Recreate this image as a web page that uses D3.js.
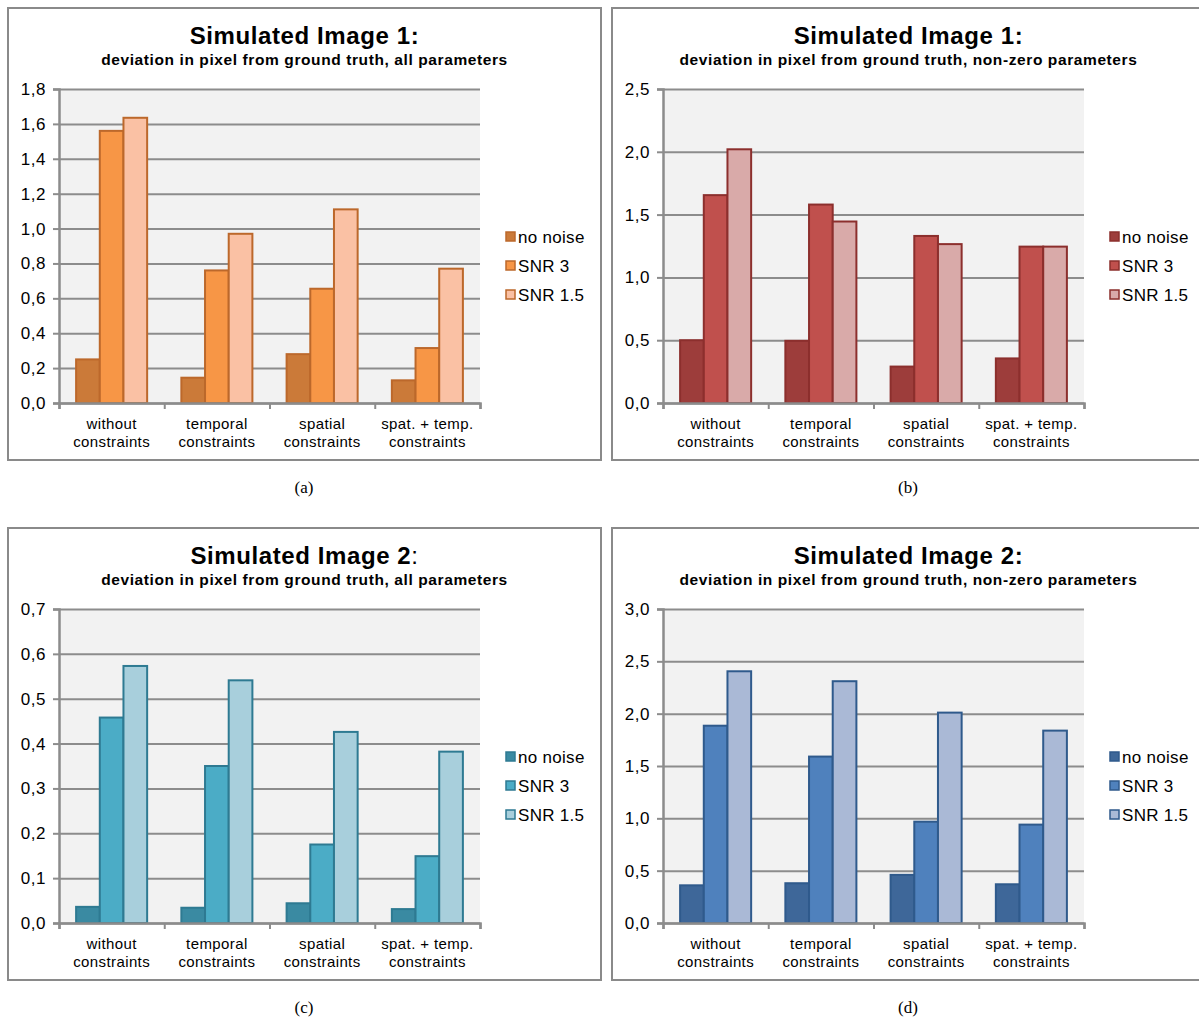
<!DOCTYPE html>
<html>
<head>
<meta charset="utf-8">
<script src="https://cdnjs.cloudflare.com/ajax/libs/d3/7.8.5/d3.min.js"></script>
<style>
  body { margin: 0; background: #fff; }
  svg { display: block; }
  text { font-family: "Liberation Sans", Arial, sans-serif; fill: #000; }
</style>
</head>
<body>
<script>
// data
var categories = [["without", "constraints"], ["temporal", "constraints"], ["spatial", "constraints"], ["spat. + temp.", "constraints"]];
var seriesNames = ["no noise", "SNR 3", "SNR 1.5"];

// (a) image 1, all parameters
var img1All = [
  [0.25, 0.145, 0.28, 0.13],
  [1.56, 0.76, 0.655, 0.315],
  [1.635, 0.97, 1.11, 0.77]
];
// (b) image 1, non-zero parameters
var img1NonZero = [
  [0.50, 0.495, 0.29, 0.355],
  [1.655, 1.58, 1.33, 1.245],
  [2.02, 1.445, 1.265, 1.245]
];
// (c) image 2, all parameters
var img2All = [
  [0.036, 0.034, 0.044, 0.031],
  [0.458, 0.350, 0.175, 0.149],
  [0.573, 0.541, 0.426, 0.382]
];
// (d) image 2, non-zero parameters
var img2NonZero = [
  [0.36, 0.38, 0.46, 0.37],
  [1.885, 1.59, 0.968, 0.94],
  [2.405, 2.31, 2.01, 1.838]
];

var yTicksA = [0, 0.2, 0.4, 0.6, 0.8, 1.0, 1.2, 1.4, 1.6, 1.8];
var yTicksB = [0, 0.5, 1.0, 1.5, 2.0, 2.5];
var yTicksC = [0, 0.1, 0.2, 0.3, 0.4, 0.5, 0.6, 0.7];
var yTicksD = [0, 0.5, 1.0, 1.5, 2.0, 2.5, 3.0];

var panels = [
  { x: 8, y: 8, title: "Simulated Image 1:", sub: "deviation in pixel from ground truth, all parameters",
    data: img1All, ticks: yTicksA, caption: "(a)",
    fills: ["#cb7a39", "#f79646", "#fac1a4"], stroke: "#bc682b" },
  { x: 612, y: 8, title: "Simulated Image 1:", sub: "deviation in pixel from ground truth, non-zero parameters",
    data: img1NonZero, ticks: yTicksB, caption: "(b)",
    fills: ["#9d3d3b", "#c0504d", "#d9aaa9"], stroke: "#8c2f2d" },
  { x: 8, y: 528, title: "Simulated Image 2", colon: true, sub: "deviation in pixel from ground truth, all parameters",
    data: img2All, ticks: yTicksC, caption: "(c)",
    fills: ["#3a8aa2", "#4bacc6", "#a8cfdc"], stroke: "#2e7a92" },
  { x: 612, y: 528, title: "Simulated Image 2:", sub: "deviation in pixel from ground truth, non-zero parameters",
    data: img2NonZero, ticks: yTicksD, caption: "(d)",
    fills: ["#3e6799", "#4f81bd", "#aab9d6"], stroke: "#2f5a8c" }
];

var W = 1199, H = 1017;
var pw = 593, ph = 452;
var m = { left: 51, top: 81, width: 421, height: 314 };

var svg = d3.select("body").append("svg")
  .attr("width", W)
  .attr("height", H);

var fmt = function(d) { return d3.format(".1f")(d).replace(".", ","); };

panels.forEach(function(p) {
  var g = svg.append("g").attr("transform", "translate(" + p.x + "," + p.y + ")");

  // frame
  g.append("rect")
    .attr("x", 0).attr("y", 0)
    .attr("width", pw).attr("height", ph)
    .attr("fill", "#fff")
    .attr("stroke", "#8a8a8a")
    .attr("stroke-width", 2);

  // titles
  var t = g.append("text")
    .attr("x", pw / 2).attr("y", 36)
    .attr("text-anchor", "middle")
    .style("font-size", "24px")
    .style("font-weight", "bold")
    .style("letter-spacing", "0.6px")
    .text(p.title);
  if (p.colon) t.append("tspan").style("font-weight", "normal").text(":");

  g.append("text")
    .attr("x", pw / 2).attr("y", 57)
    .attr("text-anchor", "middle")
    .style("font-size", "15.5px")
    .style("font-weight", "bold")
    .style("letter-spacing", "0.6px")
    .text(p.sub);

  var plot = g.append("g").attr("transform", "translate(" + m.left + "," + m.top + ")");

  var y = d3.scaleLinear()
    .domain([0, d3.max(p.ticks)])
    .range([m.height, 0]);

  var x0 = d3.scaleBand()
    .domain(d3.range(categories.length))
    .range([0, m.width])
    .paddingInner(0.325)
    .paddingOuter(0.1625);

  var x1 = d3.scaleBand()
    .domain(d3.range(seriesNames.length))
    .range([0, x0.bandwidth()]);

  var xb = d3.scaleLinear().domain([0, categories.length]).range([0, m.width]);

  plot.append("rect")
    .attr("width", m.width).attr("height", m.height)
    .attr("fill", "#f2f2f2");

  // gridlines
  plot.append("g")
    .attr("class", "grid")
    .call(d3.axisLeft(y).tickValues(p.ticks).tickSize(-m.width).tickFormat(""))
    .call(function(s) {
      s.select(".domain").remove();
      s.selectAll("line").attr("stroke", "#8c8c8c").attr("stroke-width", 2);
    });

  // bars
  var groups = plot.selectAll("g.cat")
    .data(categories)
    .enter().append("g")
    .attr("class", "cat")
    .attr("transform", function(d, i) { return "translate(" + x0(i) + ",0)"; });

  groups.selectAll("rect")
    .data(function(d, i) { return p.data.map(function(s, k) { return { k: k, v: s[i] }; }); })
    .enter().append("rect")
    .attr("x", function(d) { return x1(d.k); })
    .attr("y", function(d) { return y(d.v); })
    .attr("width", x1.bandwidth())
    .attr("height", function(d) { return m.height - y(d.v); })
    .attr("fill", function(d) { return p.fills[d.k]; })
    .attr("stroke", p.stroke)
    .attr("stroke-width", 2);

  // y axis
  plot.append("g")
    .call(d3.axisLeft(y).tickValues(p.ticks).tickSize(6).tickPadding(7).tickFormat(fmt))
    .call(function(s) {
      s.select(".domain").attr("stroke", "#8c8c8c").attr("stroke-width", 2.5);
      s.selectAll("line").attr("stroke", "#8c8c8c").attr("stroke-width", 2);
      s.selectAll("text")
        .style("font-size", "17px")
        .style("letter-spacing", "0.5px")
        .style("font-family", "Liberation Sans, Arial, sans-serif");
    });

  // x axis with ticks at category boundaries
  plot.append("g")
    .attr("transform", "translate(0," + m.height + ")")
    .call(d3.axisBottom(xb).tickValues(d3.range(categories.length + 1)).tickSize(6).tickFormat(""))
    .call(function(s) {
      s.select(".domain").attr("stroke", "#8c8c8c").attr("stroke-width", 2.5);
      s.selectAll("line").attr("stroke", "#8c8c8c").attr("stroke-width", 2);
    });

  var lbl = plot.append("g").selectAll("text")
    .data(categories)
    .enter().append("text")
    .attr("x", function(d, i) { return x0(i) + x0.bandwidth() / 2; })
    .attr("y", m.height + 26)
    .attr("text-anchor", "middle")
    .style("font-size", "15px")
    .style("letter-spacing", "0.4px");
  lbl.each(function(d) {
    var el = d3.select(this);
    d.forEach(function(line, j) {
      el.append("tspan")
        .attr("x", el.attr("x"))
        .attr("dy", j === 0 ? 0 : 18)
        .text(line);
    });
  });

  // legend
  var leg = g.append("g")
    .attr("transform", "translate(" + (m.left + m.width + 25) + ",229)");
  seriesNames.forEach(function(name, k) {
    var row = leg.append("g").attr("transform", "translate(0," + (k * 29) + ")");
    row.append("rect")
      .attr("x", 1).attr("y", -5)
      .attr("width", 9).attr("height", 9)
      .attr("fill", p.fills[k])
      .attr("stroke", p.stroke)
      .attr("stroke-width", 1.5);
    row.append("text")
      .attr("x", 13).attr("y", 6)
      .style("font-size", "17px")
      .style("letter-spacing", "0.3px")
      .text(name);
  });

  // caption
  svg.append("text")
    .attr("x", p.x + 296).attr("y", p.y + ph + 33)
    .attr("text-anchor", "middle")
    .style("font-family", "Liberation Serif, Times New Roman, serif")
    .style("font-size", "17px")
    .text(p.caption);
});
</script>
</body>
</html>
